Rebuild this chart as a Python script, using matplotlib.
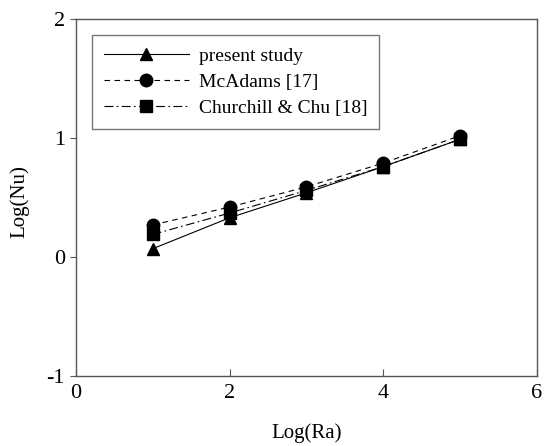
import matplotlib
matplotlib.use("Agg")
import matplotlib.pyplot as plt

log_ra = [1, 2, 3, 4, 5]
present_study = [0.07, 0.33, 0.54, 0.76, 0.99]
mcadams = [0.27, 0.42, 0.59, 0.79, 1.02]
churchill_chu = [0.19, 0.37, 0.56, 0.76, 0.99]

plt.rcParams["font.family"] = ["Liberation Serif", "DejaVu Serif"]
plt.rcParams["axes.unicode_minus"] = False

fig = plt.figure(figsize=(5.5, 4.46), dpi=100)
ax = fig.add_axes([0.138, 0.157, 0.838, 0.8])

ax.plot(log_ra, present_study, color="black", linewidth=0.8, linestyle="-",
        marker="^", markersize=9, label="present study")
ax.plot(log_ra, mcadams, color="black", linewidth=0.8, linestyle=(0, (5, 4)),
        marker="o", markersize=9, label="McAdams [17]")
ax.plot(log_ra, churchill_chu, color="black", linewidth=0.8, linestyle=(0, (8, 3, 1.5, 3)),
        marker="s", markersize=9, label="Churchill & Chu [18]")

ax.set_xlim(0, 6)
ax.set_ylim(-1, 2)
ax.set_xticks([0, 2, 4, 6])
ax.set_yticks([-1, 0, 1, 2])
ax.tick_params(axis="x", direction="in", length=5, labelsize=16, pad=6, color="#555555")
ax.tick_params(axis="y", direction="out", length=4, labelsize=16, pad=4, color="#555555")
for s in ax.spines.values():
    s.set_color("#555555")
    s.set_linewidth(1.0)

ax.set_xlabel("Log(Ra)", fontsize=15)
ax.set_ylabel("Log(Nu)", fontsize=15)
ax.xaxis.set_label_coords(0.5, -0.132)
ax.yaxis.set_label_coords(-0.10, 0.49)

leg = ax.legend(loc="upper left", bbox_to_anchor=(0.035, 0.955), fontsize=14,
                handlelength=4.4, frameon=True, fancybox=False, borderpad=0.6,
                labelspacing=0.45, handletextpad=0.5, borderaxespad=0)
leg.get_frame().set_edgecolor("#555555")
leg.get_frame().set_linewidth(1.0)

fig.savefig("out.png", dpi=100)
plt.close(fig)
